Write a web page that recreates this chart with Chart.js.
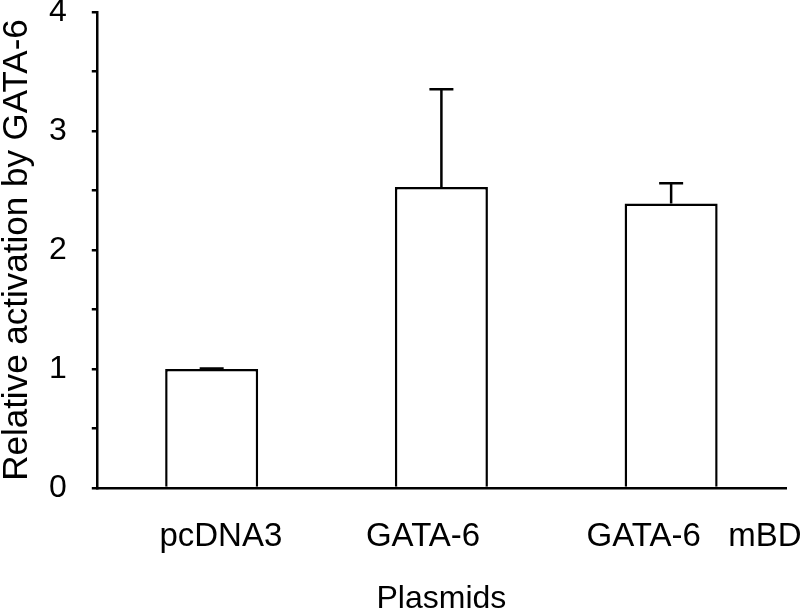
<!DOCTYPE html>
<html>
<head>
<meta charset="utf-8">
<script src="https://cdn.jsdelivr.net/npm/chart.js@4.4.0/dist/chart.umd.min.js"></script>
<style>
  html, body { margin: 0; padding: 0; background: #fff; }
  #wrap { width: 805px; height: 611px; }
</style>
</head>
<body>
<div id="wrap"><canvas id="grafica"></canvas></div>
<script>
// datos
const plasmidos = ['  pcDNA3', 'GATA-6    ', '     GATA-6   mBD'];
const activacion = [1.0, 2.53, 2.39];
const errores = [0.005, 0.82, 0.17];
const ticksY = [0, 1, 2, 3, 4];

const fuente = 'Arial, "Liberation Sans", sans-serif';

// barras de error (solo hacia arriba)
const barrasError = {
  id: 'barrasError',
  afterDatasetsDraw(chart) {
    const ctx = chart.ctx;
    const meta = chart.getDatasetMeta(0);
    const y = chart.scales.y;
    ctx.save();
    ctx.strokeStyle = '#000';
    ctx.lineWidth = 2.5;
    for (let i = 0; i < activacion.length; i++) {
      const x = meta.data[i].x;
      const y0 = y.getPixelForValue(activacion[i]);
      const y1 = y.getPixelForValue(activacion[i] + errores[i]);
      ctx.beginPath();
      ctx.moveTo(x, y0);
      ctx.lineTo(x, y1);
      ctx.moveTo(x - 12, y1);
      ctx.lineTo(x + 12, y1);
      ctx.stroke();
    }
    ctx.restore();
  }
};

const ctx = document.getElementById('grafica').getContext('2d');
const myChart = new Chart(ctx, {
  type: 'bar',
  data: {
    labels: plasmidos,
    datasets: [{
      label: 'Relative activation by GATA-6',
      data: activacion,
      backgroundColor: '#fff',
      borderColor: '#000',
      borderWidth: 2.5,
      barPercentage: 0.405,
      categoryPercentage: 1.0
    }]
  },
  options: {
    responsive: true,
    maintainAspectRatio: false,
    animation: false,
    layout: { padding: { top: 0, right: 19, left: 0, bottom: 0 } },
    plugins: {
      legend: { display: false },
      tooltip: { enabled: false }
    },
    scales: {
      x: {
        grid: { display: true, drawOnChartArea: false, drawTicks: true, tickLength: 32, color: 'rgba(0,0,0,0)' },
        border: { display: true, color: '#000', width: 2.5 },
        ticks: {
          color: '#000',
          padding: 0,
          maxRotation: 0,
          autoSkip: false,
          font: { family: fuente, size: 33, lineHeight: 1 }
        },
        title: {
          display: true,
          text: 'Plasmids',
          color: '#000',
          padding: { top: 30, bottom: -4 },
          font: { family: fuente, size: 32, lineHeight: 1 }
        }
      },
      y: {
        min: ticksY[0],
        max: ticksY[ticksY.length - 1],
        grid: {
          drawOnChartArea: false,
          drawTicks: true,
          tickLength: 30,
          // solo los 5px junto al eje
          tickBorderDash: [0, 25, 5, 100],
          color: '#000',
          lineWidth: 2.5
        },
        border: { display: true, color: '#000', width: 2.5 },
        ticks: {
          stepSize: 0.5,
          color: '#000',
          padding: 0,
          font: { family: fuente, size: 32, lineHeight: 0.75 },
          callback: function(v) {
            return ticksY.includes(v) ? String(v) : '';
          }
        },
        title: {
          display: true,
          text: 'Relative activation by GATA-6',
          color: '#000',
          padding: { top: 0, bottom: 14 },
          font: { family: fuente, size: 35, lineHeight: 1 }
        }
      }
    }
  },
  plugins: [barrasError]
});
</script>
</body>
</html>
